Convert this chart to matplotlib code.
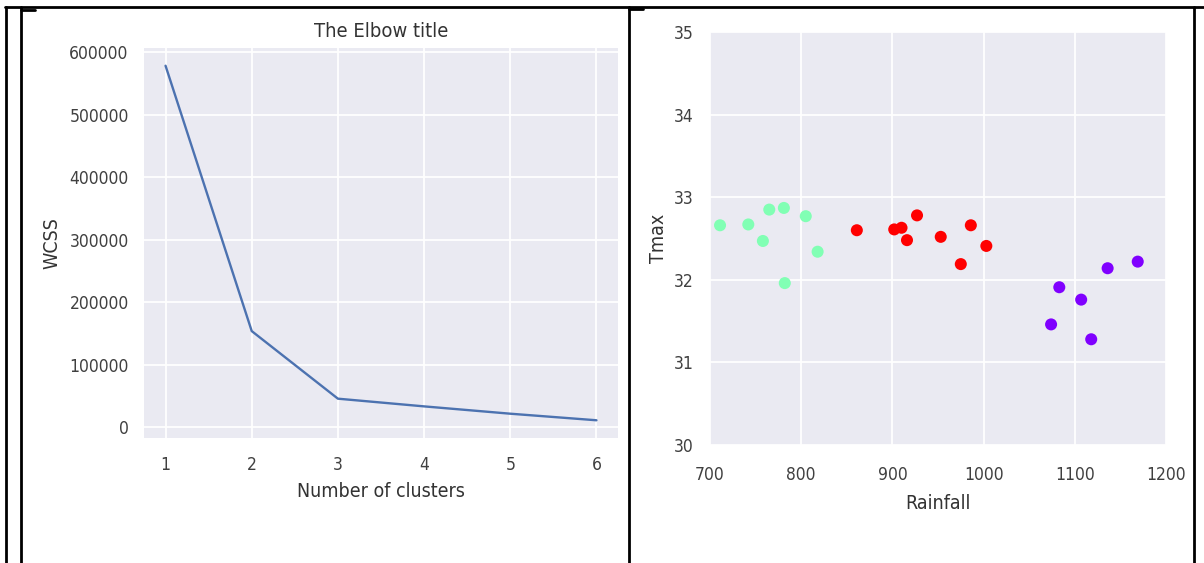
import numpy as np
import matplotlib
matplotlib.use('Agg')
from matplotlib import pyplot as pl, lines

pl.style.use('seaborn-v0_8-darkgrid')
matplotlib.rcParams['font.family'] = ['DejaVu Sans']
matplotlib.rcParams['font.stretch'] = 'condensed'

# elbow curve
nClusters = [1, 2, 3, 4, 5, 6]
wcss = [578000, 154000, 46000, 33700, 22000, 11500]

# rainfall / tmax clusters (0 = purple, 1 = green, 2 = red)
rainfall = [711, 742, 758, 765, 781, 782, 805, 818,
            861, 902, 910, 916, 927, 953, 975, 986, 1003,
            1074, 1083, 1107, 1118, 1136, 1169]
tmax = [32.66, 32.67, 32.47, 32.85, 32.87, 31.96, 32.77, 32.34,
        32.60, 32.61, 32.63, 32.48, 32.78, 32.52, 32.19, 32.66, 32.41,
        31.46, 31.91, 31.76, 31.28, 32.14, 32.22]
clusterIdx = [1, 1, 1, 1, 1, 1, 1, 1,
              2, 2, 2, 2, 2, 2, 2, 2, 2,
              0, 0, 0, 0, 0, 0]

W, H = 1204, 563
fig = pl.figure(figsize=(W / 100, H / 100), dpi=100)
fig.patch.set_facecolor('white')

tickCol = '0.25'
tickSize = 12.5
labSize = 14

def styleAx(ax, padX, padY):
  ax.set_facecolor('#EAEAF2')
  ax.grid(True, color='white', linewidth=1.3)
  ax.tick_params(axis='x', length=0, pad=padX, labelsize=tickSize, labelcolor=tickCol)
  ax.tick_params(axis='y', length=0, pad=padY, labelsize=tickSize, labelcolor=tickCol)
  for s in ax.spines.values():
    s.set_visible(False)

# left: elbow
ax1 = fig.add_axes([144 / W, 1 - 438 / H, 474 / W, 390 / H])
ax1.plot(nClusters, wcss, color='#4C72B0', linewidth=1.7)
ax1.set_yticks(np.arange(0, 600001, 100000))
ax1.set_xticks(nClusters)
styleAx(ax1, 13, 11)
ax1.set_title('The Elbow title', fontsize=14.5, color='0.2', pad=8)
ax1.set_xlabel('Number of clusters', fontsize=labSize, color='0.2', labelpad=6)
ax1.set_ylabel('WCSS', fontsize=labSize, color='0.2', labelpad=6)

# right: scatter
ax2 = fig.add_axes([710 / W, 1 - 445 / H, 456 / W, 413 / H])
ax2.scatter(rainfall, tmax, c=clusterIdx, cmap='rainbow', s=75, linewidths=0)
ax2.set_xlim(700, 1200)
ax2.set_ylim(30, 35)
ax2.set_xticks(np.arange(700, 1201, 100))
ax2.set_yticks(np.arange(30, 36, 1))
styleAx(ax2, 15, 12)
ax2.set_xlabel('Rainfall', fontsize=labSize, color='0.2', labelpad=7)
ax2.set_ylabel('Tmax', fontsize=labSize, color='0.2', labelpad=4)

# table borders around the two panels
def seg(x0, y0, x1, y1, lw=2):
  fig.add_artist(lines.Line2D([x0 / W, x1 / W], [1 - y0 / H, 1 - y1 / H],
                              color='black', linewidth=lw, transform=fig.transFigure))

seg(5, 7, 1204, 7)
seg(6, 7, 6, 563)
seg(21, 7, 21, 563)
seg(21, 10, 35, 10)
seg(629, 7, 629, 563)
seg(629, 9, 643, 9)
seg(1194, 7, 1194, 563)

fig.savefig('out.png', dpi=100)
